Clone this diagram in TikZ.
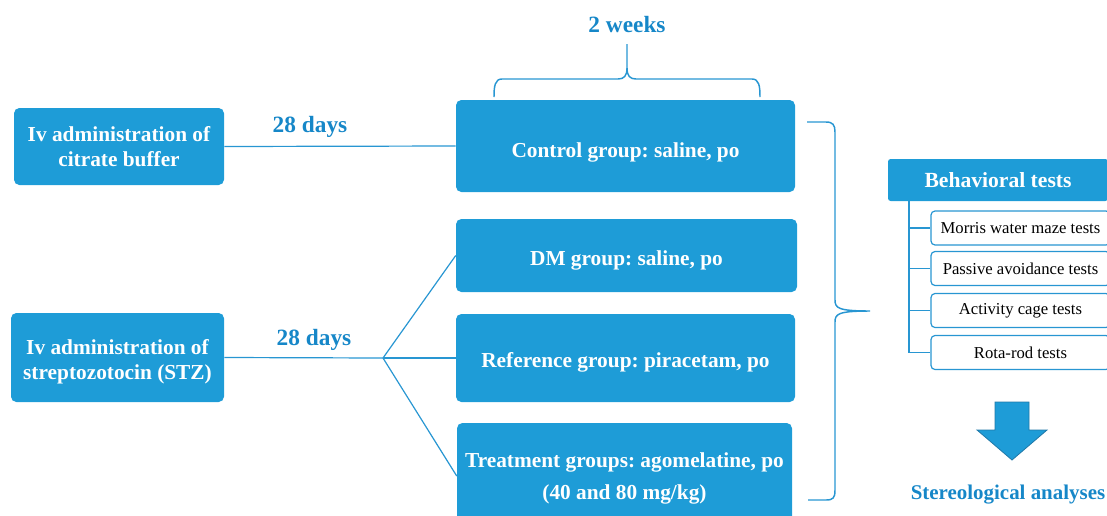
\documentclass[tikz,border=0pt]{standalone}
\usepackage{fontspec}
\setmainfont{Liberation Serif}
\definecolor{boxblue}{RGB}{30,156,215}
\definecolor{txtblue}{RGB}{22,135,200}
\definecolor{lineblue}{RGB}{40,150,210}
\newcommand{\lowr}[2]{\raisebox{-#1}[\height][\depth]{#2}}
\begin{document}
\frenchspacing
\begin{tikzpicture}[x=0.75pt,y=-0.75pt,
  box/.style={fill=boxblue, draw=none, rounded corners=4pt, text=white, align=center, inner sep=0pt,
    font=\bfseries\fontsize{16}{19}\selectfont},
  lbl/.style={text=txtblue, font=\bfseries\fontsize{17.5}{19}\selectfont, inner sep=0pt},
  conn/.style={draw=lineblue, line width=0.9pt},
  testbox/.style={draw=lineblue, fill=white, rounded corners=3pt, line width=0.9pt, inner sep=0pt,
    font=\fontsize{12.5}{14}\selectfont},
  headbox/.style={fill=boxblue, draw=none, rounded corners=2pt, text=white, inner sep=0pt,
    font=\bfseries\fontsize{16.2}{18}\selectfont}
]
\useasboundingbox (0,0) rectangle (1107,515);
\clip (0,0) rectangle (1107,515);

% left boxes
\node[box, minimum width=210*0.75pt, minimum height=77*0.75pt] (citrate) at (119,146.5) {Iv administration of\\citrate buffer};
\node[box, minimum width=213*0.75pt, minimum height=89*0.75pt] (stz) at (117.5,357.5) {\lowr{3pt}{Iv administration of}\\\lowr{3pt}{streptozotocin (STZ)}};

% group boxes
\node[box, minimum width=339*0.75pt, minimum height=92*0.75pt] (control) at (625.5,146) {\lowr{4.5pt}{Control group: saline, po}};
\node[box, minimum width=341*0.75pt, minimum height=73*0.75pt] (dm) at (626.5,255.5) {\lowr{3.75pt}{DM group: saline, po}};
\node[box, minimum width=339*0.75pt, minimum height=88*0.75pt] (ref) at (625.5,358) {\lowr{3pt}{Reference group: piracetam, po}};
\node[box, minimum width=335*0.75pt, minimum height=106*0.75pt, font=\bfseries\fontsize{16}{24}\selectfont] (treat) at (624.5,476) {\lowr{1.5pt}{Treatment groups: agomelatine, po}\\\lowr{1.5pt}{(40 and 80 mg/kg)}};

% labels
\node[lbl] (d1) at (310,127) {28 days};
\node[lbl] (d2) at (314,340) {28 days};
\node[lbl] (wk) at (627,25) {2 weeks};

% connectors
\coordinate (split) at (383,358);
\draw[conn] (citrate.east) -- (control.west);
\draw[conn] (stz.east) -- (split);
\draw[conn] (split) -- (dm.west);
\draw[conn] (split) -- (ref.west);
\draw[conn] (split) -- (treat.west);

% top brace
\draw[conn, line width=1.1pt] (494,97) .. controls (494,86) and (495,79) .. (502,79) -- (618,79)
  .. controls (624,79) and (627,76) .. (627,68) -- (627,44)
  (627,68) .. controls (627,76) and (630,79) .. (636,79) -- (752,79)
  .. controls (759,79) and (760,86) .. (760,97);

% right brace
\draw[conn, line width=1.1pt] (807,122) -- (826,122) .. controls (833,122) and (835,125) .. (835,132)
  -- (835,300) .. controls (835,308) and (838,311) .. (870,311)
  (870,311) .. controls (838,311) and (835,314) .. (835,322)
  -- (835,490) .. controls (835,498) and (833,500) .. (826,500) -- (808,500);

% behavioral tests
\node[headbox, minimum width=220*0.75pt, minimum height=42*0.75pt] (behav) at (998,180) {Behavioral tests};
\node[testbox, minimum width=179*0.75pt, minimum height=34*0.75pt] (t1) at (1020.5,228) {Morris water maze tests};
\node[testbox, minimum width=179*0.75pt, minimum height=34*0.75pt] (t2) at (1020.5,268.5) {Passive avoidance tests};
\node[testbox, minimum width=179*0.75pt, minimum height=34*0.75pt] (t3) at (1020.5,310.5) {Activity cage tests};
\node[testbox, minimum width=179*0.75pt, minimum height=34*0.75pt] (t4) at (1020.5,352.5) {Rota-rod tests};
\coordinate (trunk) at (909,201);
\draw[conn] (trunk) -- (trunk |- t4.west) -- (t4.west);
\draw[conn] (trunk |- t1.west) -- (t1.west);
\draw[conn] (trunk |- t2.west) -- (t2.west);
\draw[conn] (trunk |- t3.west) -- (t3.west);

% down arrow
\filldraw[fill=boxblue, draw=lineblue!80!black, line width=0.6pt]
  (995,402) -- (1029,402) -- (1029,430) -- (1047,430) -- (1012,460) -- (977,430) -- (995,430) -- cycle;

\node[lbl, font=\bfseries\fontsize{15.7}{18}\selectfont] (stereo) at (1008,495) {Stereological analyses};
\end{tikzpicture}
\end{document}
